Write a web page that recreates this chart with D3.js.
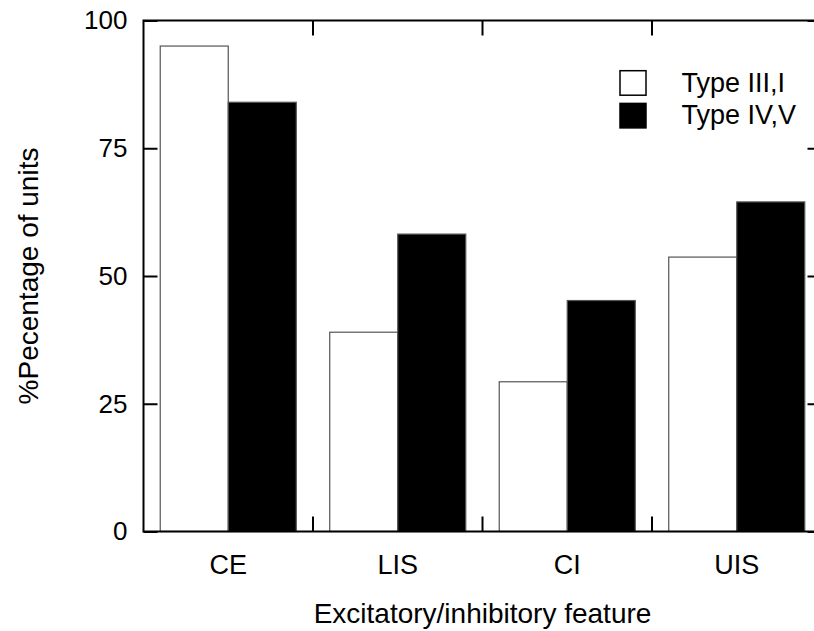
<!DOCTYPE html>
<html>
<head>
<meta charset="utf-8">
<script src="https://cdn.jsdelivr.net/npm/d3@7"></script>
<style>
  html, body { margin: 0; padding: 0; background: #fff; }
  svg { display: block; }
  text { font-family: "Liberation Sans", Arial, Helvetica, sans-serif; fill: #000; }
</style>
</head>
<body>
<svg id="chart" width="814" height="631"></svg>
<script>
// Response categories along the x axis
const categories = ["CE", "LIS", "CI", "UIS"];
// Percentage of units per category, one array per unit group
const typeIII_I = [95, 39, 29.3, 53.7];
const typeIV_V = [84, 58.2, 45.2, 64.5];
const seriesNames = ["Type III,I", "Type IV,V"];
const seriesFill = ["#fff", "#000"];
const yTicks = [0, 25, 50, 75, 100];

const svg = d3.select("#chart");
const plotLeft = 143.5, plotRight = 821.5, plotTop = 20.5, plotBottom = 531.5;

const x = d3.scaleBand().domain(categories).range([plotLeft, plotRight]).paddingInner(0).paddingOuter(0);
const inner = d3.scaleBand().domain([0, 1]).range([0, x.bandwidth()]).paddingInner(0).paddingOuter(0.246);
const y = d3.scaleLinear().domain([0, 100]).range([plotBottom, plotTop]);

const series = [typeIII_I, typeIV_V];

// Bars
series.forEach((vals, si) => {
  svg.append("g").selectAll("rect")
    .data(categories.map((c, i) => ({ c, v: vals[i] })))
    .join("rect")
    .attr("x", d => x(d.c) + inner(si))
    .attr("y", d => y(d.v))
    .attr("width", inner.bandwidth())
    .attr("height", d => y(0) - y(d.v))
    .attr("fill", seriesFill[si])
    .attr("stroke", "#555")
    .attr("stroke-width", 1.2);
});

// Frame
svg.append("rect")
  .attr("x", plotLeft).attr("y", plotTop)
  .attr("width", plotRight - plotLeft).attr("height", plotBottom - plotTop)
  .attr("fill", "none").attr("stroke", "#000").attr("stroke-width", 2);

// Left axis: inward ticks with labels
const yAxis = d3.axisLeft(y).tickValues(yTicks).tickSize(-14).tickPadding(16).tickFormat(d3.format("d"));
const gy = svg.append("g").attr("transform", `translate(${plotLeft},0)`).call(yAxis);
gy.select(".domain").remove();
gy.selectAll(".tick line").attr("stroke", "#000").attr("stroke-width", 2);
gy.selectAll(".tick text").attr("font-size", 26).attr("font-family", "Liberation Sans, Arial, sans-serif").attr("fill", "#000");

// Right axis: inward ticks only
const yAxisR = d3.axisRight(y).tickValues(yTicks).tickSize(-14).tickFormat("");
const gyr = svg.append("g").attr("transform", `translate(${plotRight},0)`).call(yAxisR);
gyr.select(".domain").remove();
gyr.selectAll(".tick line").attr("stroke", "#000").attr("stroke-width", 2);

// Category boundary ticks on bottom and top
const bounds = categories.slice(1).map(c => x(c));
[[plotBottom, -15], [plotTop, 15]].forEach(([yy, len]) => {
  svg.append("g").selectAll("line").data(bounds).join("line")
    .attr("x1", d => d).attr("x2", d => d)
    .attr("y1", yy).attr("y2", yy + len)
    .attr("stroke", "#000").attr("stroke-width", 2);
});

// Category labels
svg.append("g").selectAll("text").data(categories).join("text")
  .attr("x", d => x(d) + x.bandwidth() / 2)
  .attr("y", 574)
  .attr("text-anchor", "middle")
  .attr("font-size", 27)
  .text(d => d);

// Axis titles
svg.append("text")
  .attr("x", (plotLeft + plotRight) / 2)
  .attr("y", 623)
  .attr("text-anchor", "middle")
  .attr("font-size", 28)
  .text("Excitatory/inhibitory feature");

svg.append("text")
  .attr("transform", `translate(38,${(plotTop + plotBottom) / 2}) rotate(-90)`)
  .attr("text-anchor", "middle")
  .attr("font-size", 28)
  .text("%Pecentage of units");

// Legend
const legend = svg.append("g").selectAll("g").data(seriesNames).join("g")
  .attr("transform", (d, i) => `translate(620,${70.7 + i * 32.7})`);
legend.append("rect")
  .attr("width", 26).attr("height", 24.5)
  .attr("fill", (d, i) => seriesFill[i])
  .attr("stroke", "#000").attr("stroke-width", 1.5);
legend.append("text")
  .attr("x", 61.5).attr("y", 21)
  .attr("font-size", 27)
  .text(d => d);
</script>
</body>
</html>
